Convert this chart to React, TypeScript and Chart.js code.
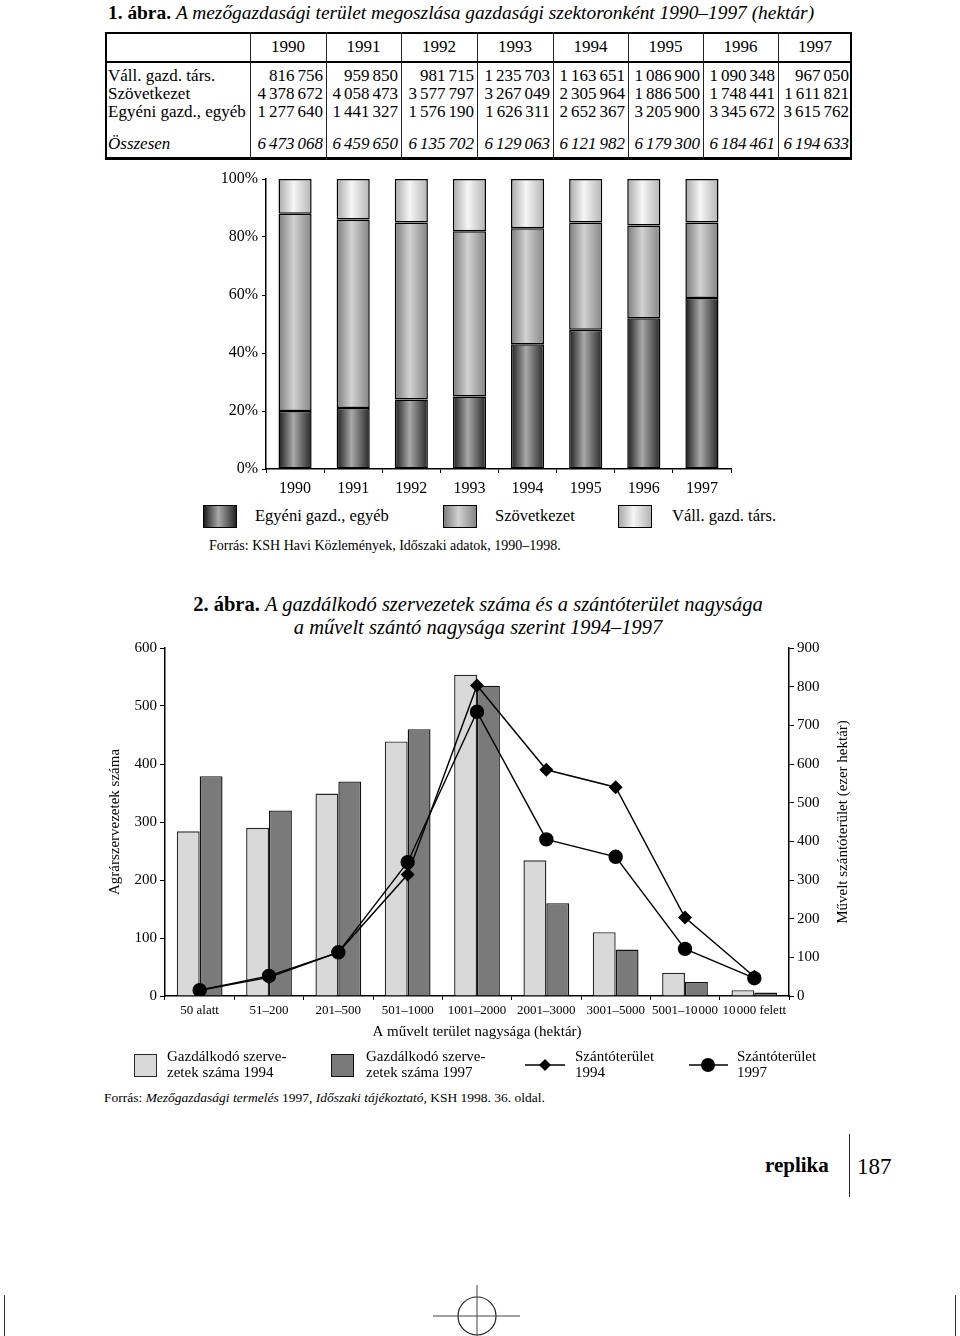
import React, { useEffect, useRef } from "react";
import { Chart, registerables } from "chart.js";

Chart.register(...registerables);

const FONT = '"Liberation Serif", "Times New Roman", serif';

// ---------- 1. ábra: table ----------
const tableYears = ["1990", "1991", "1992", "1993", "1994", "1995", "1996", "1997"];
const rowLabels = ["Váll. gazd. társ.", "Szövetkezet", "Egyéni gazd., egyéb"];
const totalLabel = "Összesen";
const vallGazdTars = [816756, 959850, 981715, 1235703, 1163651, 1086900, 1090348, 967050];
const szovetkezet = [4378672, 4058473, 3577797, 3267049, 2305964, 1886500, 1748441, 1611821];
const egyeniGazd = [1277640, 1441327, 1576190, 1626311, 2652367, 3205900, 3345672, 3615762];
const osszesen = [6473068, 6459650, 6135702, 6129063, 6121982, 6179300, 6184461, 6194633];

// ---------- 1. ábra: stacked shares (%) ----------
const shareEgyeni = [20, 21, 24, 25, 43, 48, 52, 59];
const shareSzov = [68, 65, 61, 57, 40, 37, 32, 26];
const shareVall = [12, 14, 15, 18, 17, 15, 16, 15];
const seriesNames1 = ["Egyéni gazd., egyéb", "Szövetkezet", "Váll. gazd. társ."];

// ---------- 2. ábra ----------
const sizeCategories = [
  "50 alatt",
  "51–200",
  "201–500",
  "501–1000",
  "1001–2000",
  "2001–3000",
  "3001–5000",
  "5001–10\u200A000",
  "10\u200A000 felett",
];
const orgCount1994 = [284, 290, 349, 439, 554, 234, 110, 40, 10];
const orgCount1997 = [379, 320, 370, 460, 535, 160, 80, 24, 6];
const arable1994 = [15, 48, 113, 314, 803, 585, 540, 203, 50];
const arable1997 = [15, 52, 113, 346, 735, 405, 360, 122, 46];
const leftAxisTitle = "Agrárszervezetek száma";
const rightAxisTitle = "Művelt szántóterület (ezer hektár)";
const xAxisTitle = "A művelt terület nagysága (hektár)";

const groups = (n: number) => String(n).replace(/\B(?=(\d{3})+(?!\d))/g, " ").split(" ");
const fmtNodes = (n: number) =>
  groups(n).map((g, i) => (
    <span key={i} style={{ marginLeft: i ? 3 : 0 }}>{g}</span>
  ));

const gradEgyeni: [number, string][] = [[0, "#1c1c1c"], [0.45, "#a9a9a9"], [1, "#262626"]];
const gradSzov: [number, string][] = [[0, "#7c7c7c"], [0.45, "#d2d2d2"], [1, "#858585"]];
const gradVall: [number, string][] = [[0, "#a8a8a8"], [0.45, "#f6f6f6"], [1, "#b4b4b4"]];

const cssGrad = (stops: [number, string][]) =>
  `linear-gradient(to right, ${stops.map(([o, c]) => `${c} ${o * 100}%`).join(", ")})`;

const BAR_FRAC_1 = 0.57;

const makeGrad = (stops: [number, string][], fallback: string) => (c: any) => {
  const chart = c.chart;
  const xs = chart.scales && chart.scales.x;
  if (c.type !== "data" || !xs || !chart.chartArea) return fallback;
  const n = chart.data.labels.length;
  const w = ((xs.right - xs.left) / n) * BAR_FRAC_1;
  const cx = xs.getPixelForValue(c.dataIndex);
  const g = chart.ctx.createLinearGradient(cx - w / 2, 0, cx + w / 2, 0);
  stops.forEach(([o, col]) => g.addColorStop(o, col));
  return g;
};

function ShareChart() {
  const ref = useRef<HTMLCanvasElement>(null);
  useEffect(() => {
    const tickFont = { family: FONT, size: 16 };
    const chart = new Chart(ref.current as HTMLCanvasElement, {
      type: "bar",
      data: {
        labels: tableYears,
        datasets: [
          { label: seriesNames1[0], data: shareEgyeni, backgroundColor: makeGrad(gradEgyeni, "#555"), borderColor: "#000", borderWidth: 1.5, borderSkipped: false },
          { label: seriesNames1[1], data: shareSzov, backgroundColor: makeGrad(gradSzov, "#aaa"), borderColor: "#000", borderWidth: 1.5, borderSkipped: false },
          { label: seriesNames1[2], data: shareVall, backgroundColor: makeGrad(gradVall, "#ddd"), borderColor: "#000", borderWidth: 1.5, borderSkipped: false },
        ],
      } as any,
      options: {
        animation: false,
        responsive: false,
        maintainAspectRatio: false,
        layout: { padding: { top: 14, right: 14, left: 0, bottom: 0 } },
        datasets: { bar: { categoryPercentage: 1, barPercentage: BAR_FRAC_1 } },
        plugins: { legend: { display: false }, tooltip: { enabled: false } },
        scales: {
          x: {
            stacked: true,
            grid: { display: true, drawOnChartArea: false, offset: true, tickLength: 4, color: "#000", lineWidth: 1 },
            border: { color: "#000", width: 1.5 },
            ticks: { color: "#000", font: tickFont, padding: 6, maxRotation: 0, autoSkip: false },
            afterFit: (s: any) => { s.height = 31; },
          },
          y: {
            stacked: true,
            min: 0,
            max: 100,
            grid: { display: true, drawOnChartArea: false, tickLength: 4, color: "#000", lineWidth: 1 },
            border: { color: "#000", width: 1.5 },
            ticks: { stepSize: 20, color: "#000", font: tickFont, padding: 4, callback: (v: any) => v + "%" },
            afterFit: (s: any) => { s.width = 66; },
          },
        },
      } as any,
    });
    return () => chart.destroy();
  }, []);
  return <canvas ref={ref} width={545} height={335} style={{ position: "absolute", left: 200, top: 165 }} />;
}

const rightTitlePlugin = {
  id: "rightTitle",
  afterDraw(chart: any) {
    const s = chart.scales.y2;
    const ctx = chart.ctx;
    ctx.save();
    ctx.translate(s.right - 22, (chart.chartArea.top + chart.chartArea.bottom) / 2);
    ctx.rotate(-Math.PI / 2);
    ctx.font = `15px ${FONT}`;
    ctx.fillStyle = "#000";
    ctx.textAlign = "center";
    ctx.textBaseline = "middle";
    ctx.fillText(rightAxisTitle, 0, 0);
    ctx.restore();
  },
};

function SizeChart() {
  const ref = useRef<HTMLCanvasElement>(null);
  useEffect(() => {
    const tf = { family: FONT, size: 15 };
    const chart = new Chart(ref.current as HTMLCanvasElement, {
      type: "bar",
      data: {
        labels: sizeCategories,
        datasets: [
          { type: "line", label: "Szántóterület 1997", data: arable1997, yAxisID: "y2", borderColor: "#000", borderWidth: 1.4, pointStyle: "circle", pointRadius: 6.5, pointBackgroundColor: "#000", pointBorderColor: "#000", tension: 0, order: 1 },
          { type: "line", label: "Szántóterület 1994", data: arable1994, yAxisID: "y2", borderColor: "#000", borderWidth: 1.4, pointStyle: "rectRot", pointRadius: 6, pointBackgroundColor: "#000", pointBorderColor: "#000", tension: 0, order: 1 },
          { type: "bar", label: "Gazdálkodó szervezetek száma 1994", data: orgCount1994, yAxisID: "y", backgroundColor: "#d9d9d9", borderColor: "#2a2a2a", borderWidth: 1.4, order: 2 },
          { type: "bar", label: "Gazdálkodó szervezetek száma 1997", data: orgCount1997, yAxisID: "y", backgroundColor: "#7a7a7a", borderColor: "#111", borderWidth: 1.4, order: 2 },
        ],
      } as any,
      options: {
        animation: false,
        responsive: false,
        maintainAspectRatio: false,
        layout: { padding: { top: 18, right: 0, left: 0, bottom: 0 } },
        datasets: { bar: { categoryPercentage: 0.66, barPercentage: 1 } },
        plugins: { legend: { display: false }, tooltip: { enabled: false } },
        scales: {
          x: {
            grid: { display: true, drawOnChartArea: false, offset: true, tickLength: 4, color: "#000", lineWidth: 1 },
            border: { color: "#000", width: 1.5 },
            ticks: { color: "#000", font: { family: FONT, size: 13 }, padding: 3, maxRotation: 0, minRotation: 0, autoSkip: false },
            title: { display: true, text: xAxisTitle, color: "#000", font: tf, padding: { top: 0, bottom: 9 } },
            afterFit: (s: any) => { s.height = 54; },
          },
          y: {
            position: "left",
            min: 0,
            max: 600,
            grid: { display: true, drawOnChartArea: false, tickLength: 5, color: "#000", lineWidth: 1 },
            border: { color: "#000", width: 1.5 },
            ticks: { stepSize: 100, color: "#000", font: tf, padding: 3 },
            title: { display: true, text: leftAxisTitle, color: "#000", font: tf, padding: { top: 11, bottom: 0 } },
            afterFit: (s: any) => { s.width = 70; },
          },
          y2: {
            position: "right",
            min: 0,
            max: 900,
            grid: { display: true, drawOnChartArea: false, tickLength: 5, color: "#000", lineWidth: 1 },
            border: { color: "#000", width: 1.5 },
            ticks: { stepSize: 100, color: "#000", font: tf, padding: 3 },
            afterFit: (s: any) => { s.width = 76; },
          },
        },
      } as any,
      plugins: [rightTitlePlugin],
    });
    return () => chart.destroy();
  }, []);
  return <canvas ref={ref} width={770} height={420} style={{ position: "absolute", left: 95, top: 630 }} />;
}

const colX = [105, 250, 326, 401, 477, 553, 628, 703, 778, 852];

function abs(left: number, top: number, extra: React.CSSProperties = {}): React.CSSProperties {
  return { position: "absolute", left, top, whiteSpace: "nowrap", ...extra };
}

function DataTable() {
  const rows = [vallGazdTars, szovetkezet, egyeniGazd];
  const rowTops = [67, 85, 103];
  const cellFont: React.CSSProperties = { fontSize: 17, lineHeight: "18px", height: 18 };
  return (
    <>
      <div style={abs(105, 32, { width: 747, height: 128, border: "2px solid #000", borderBottomWidth: 3, boxSizing: "border-box" })} />
      <div style={abs(105, 61, { width: 747, height: 2, background: "#000" })} />
      {colX.slice(1, 9).map((x, i) => (
        <div key={"c" + i} style={abs(x - 0.5, 32, { width: 1, height: 128, background: "#222" })} />
      ))}
      {tableYears.map((y, i) => (
        <div key={"h" + i} style={abs(colX[i + 1], 38, { ...cellFont, width: colX[i + 2] - colX[i + 1], textAlign: "center" })}>{y}</div>
      ))}
      {rowLabels.map((l, r) => (
        <div key={"l" + r} style={abs(108, rowTops[r], cellFont)}>{l}</div>
      ))}
      <div style={abs(108, 135, { ...cellFont, fontStyle: "italic" })}>{totalLabel}</div>
      {rows.map((vals, r) =>
        vals.map((v, i) => (
          <div key={"v" + r + "_" + i} style={abs(colX[i + 1], rowTops[r], { ...cellFont, width: colX[i + 2] - colX[i + 1] - 3, textAlign: "right" })}>{fmtNodes(v)}</div>
        ))
      )}
      {osszesen.map((v, i) => (
        <div key={"t" + i} style={abs(colX[i + 1], 135, { ...cellFont, width: colX[i + 2] - colX[i + 1] - 3, textAlign: "right", fontStyle: "italic" })}>{fmtNodes(v)}</div>
      ))}
    </>
  );
}

export default function App() {
  const sq = (left: number, grad: [number, string][]) => (
    <div style={abs(left, 505, { width: 34, height: 23, background: cssGrad(grad), border: "1.5px solid #000", boxSizing: "border-box" })} />
  );
  const legText: React.CSSProperties = { fontSize: 16.5, lineHeight: "20px" };
  const leg2: React.CSSProperties = { fontSize: 15, lineHeight: "16px" };
  return (
    <div style={{ position: "absolute", left: 0, top: 0, width: 960, height: 1336, background: "#fff", fontFamily: FONT, color: "#000", overflow: "hidden" }}>
      {/* Figure 1 title */}
      <div style={abs(108, 2, { fontSize: 19.4, lineHeight: "22px" })}>
        <b>1. ábra.</b> <i>A mezőgazdasági terület megoszlása gazdasági szektoronként 1990–1997 (hektár)</i>
      </div>
      <DataTable />
      <ShareChart />
      {sq(203, gradEgyeni)}
      <div style={abs(255, 506, legText)}>{seriesNames1[0]}</div>
      {sq(443, gradSzov)}
      <div style={abs(495, 506, legText)}>{seriesNames1[1]}</div>
      {sq(618, gradVall)}
      <div style={abs(672, 506, legText)}>{seriesNames1[2]}</div>
      <div style={abs(209, 537, { fontSize: 14, lineHeight: "18px" })}>Forrás: KSH Havi Közlemények, Időszaki adatok, 1990–1998.</div>

      {/* Figure 2 */}
      <div style={abs(0, 593, { width: 956, textAlign: "center", fontSize: 20.5, lineHeight: "23px" })}>
        <b>2. ábra.</b> <i>A gazdálkodó szervezetek száma és a szántóterület nagysága</i>
        <br />
        <i>a művelt szántó nagysága szerint 1994–1997</i>
      </div>
      <SizeChart />
      <div style={abs(134, 1054, { width: 23, height: 23, background: "#d9d9d9", border: "1.5px solid #2a2a2a", boxSizing: "border-box" })} />
      <div style={abs(167, 1048, leg2)}>Gazdálkodó szerve-<br />zetek száma 1994</div>
      <div style={abs(331, 1054, { width: 23, height: 23, background: "#7a7a7a", border: "1.5px solid #111", boxSizing: "border-box" })} />
      <div style={abs(366, 1048, leg2)}>Gazdálkodó szerve-<br />zetek száma 1997</div>
      <svg style={abs(522, 1054)} width={46} height={22}>
        <line x1={3} y1={11} x2={43} y2={11} stroke="#000" strokeWidth={1.5} />
        <polygon points="23,5 29,11 23,17 17,11" fill="#000" />
      </svg>
      <div style={abs(575, 1048, leg2)}>Szántóterület<br />1994</div>
      <svg style={abs(686, 1054)} width={46} height={22}>
        <line x1={3} y1={11} x2={42} y2={11} stroke="#000" strokeWidth={1.5} />
        <circle cx={22} cy={11} r={7} fill="#000" />
      </svg>
      <div style={abs(737, 1048, leg2)}>Szántóterület<br />1997</div>
      <div style={abs(104, 1089, { fontSize: 13.5, lineHeight: "17px" })}>
        Forrás: <i>Mezőgazdasági termelés</i> 1997, <i>Időszaki tájékoztató,</i> KSH 1998. 36. oldal.
      </div>

      {/* footer */}
      <div style={abs(765, 1152, { fontSize: 21, lineHeight: "26px", fontWeight: "bold" })}>replika</div>
      <div style={abs(849, 1134, { width: 1, height: 63, background: "#222" })} />
      <div style={abs(857, 1153, { fontSize: 23, lineHeight: "28px" })}>187</div>

      <svg style={abs(0, 1280)} width={960} height={56}>
        <line x1={4.5} y1={15} x2={4.5} y2={56} stroke="#333" strokeWidth={1} />
        <line x1={955.5} y1={15} x2={955.5} y2={56} stroke="#333" strokeWidth={1} />
        <circle cx={477} cy={36} r={19} fill="none" stroke="#222" strokeWidth={1.2} />
        <line x1={433} y1={36} x2={520} y2={36} stroke="#444" strokeWidth={1} />
        <line x1={477} y1={5} x2={477} y2={56} stroke="#444" strokeWidth={1} />
      </svg>
    </div>
  );
}
